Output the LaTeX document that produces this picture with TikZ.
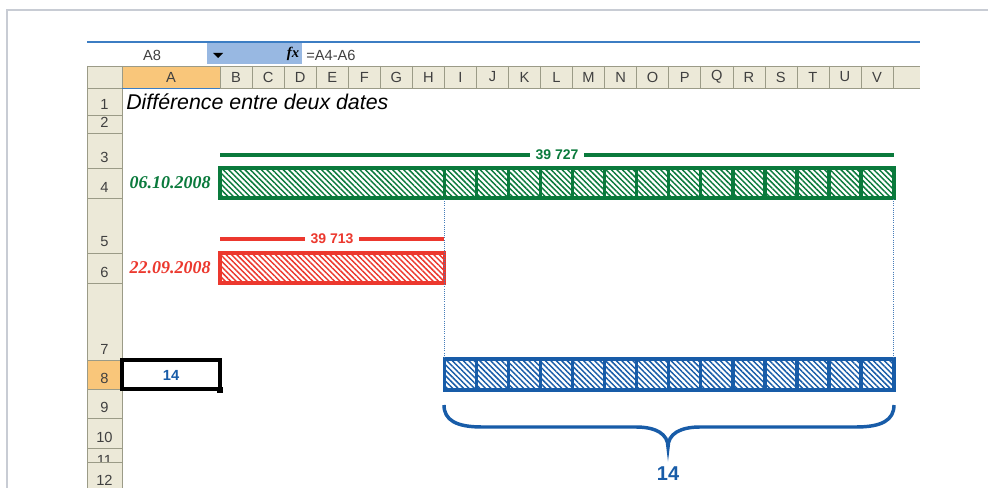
\documentclass[tikz,border=0pt]{standalone}
\usepackage{fontspec}
\setmainfont{Liberation Sans}
\newfontfamily\datefont{Liberation Serif}
\usetikzlibrary{calc,patterns.meta}
\definecolor{xlgreen}{RGB}{10,122,60}
\definecolor{xlred}{RGB}{236,56,46}
\definecolor{xlblue}{RGB}{24,92,168}
\definecolor{hdrbg}{RGB}{236,233,216}
\definecolor{hdrline}{RGB}{155,155,135}
\definecolor{hdrsel}{RGB}{249,198,122}
\definecolor{fxblue}{RGB}{152,184,226}
\definecolor{barblue}{RGB}{60,125,195}
\definecolor{framegray}{RGB}{200,204,212}

\begin{document}
\begin{tikzpicture}[x=0.75pt,y=-0.75pt]
  \tikzset{hdr/.style={font=\fontsize{11}{11}\selectfont,text=black!75,inner sep=0pt},
    hatch/.style={pattern={Lines[angle=-45,distance=2.9pt,line width=1.1pt]},pattern color=#1},
    barline/.style={draw=#1,line width=2.6pt},
    dim/.style={draw=#1,line width=2.6pt},
    dimlabel/.style={text=#1,inner sep=4pt,font=\fontsize{10.5}{10.5}\selectfont\bfseries},
    datelabel/.style={anchor=east,inner sep=0pt,text=#1,font=\datefont\fontsize{13.5}{13.5}\selectfont\bfseries\itshape},
    guide/.style={draw=xlblue!80,densely dotted,line width=0.6pt}};
  \useasboundingbox (0,0) rectangle (988,488);
  \fill[white] (0,0) rectangle (988,488);
  \draw[framegray,line width=1.5pt] (7,488) -- (7,10) -- (988,10);
  % formula bar
  \fill[fxblue] (207,43) rectangle (302,64);
  \draw[barblue,line width=1.8pt] (87,42) -- (920,42);
  \node[hdr] (name) at (152,55) {A8};
  \fill[black] (213,53) -- (223,53) -- (218,58) -- cycle;
  \node[inner sep=0pt,font=\datefont\fontsize{11}{11}\selectfont\bfseries\itshape] (fx) at (293,54) {fx};
  \node[hdr,anchor=west] (formula) at (306,55) {=A4-A6};
  % headers
  \fill[hdrbg] (87,66) rectangle (920,88);
  \fill[hdrbg] (87,88) rectangle (122,488);
  \fill[hdrsel] (122,66) rectangle (220,88);
  \fill[hdrsel] (87,360) rectangle (122,389);
  \draw[hdrline] (87,66) -- (920,66);
  \draw[hdrline] (87,88) -- (920,88);
  \draw[hdrline] (87,66) -- (87,488);
  \draw[hdrline] (122,66) -- (122,488);
  \draw[barblue] (122,88) -- (220,88);
  \draw[barblue] (87,389) -- (122,389);
  \node[hdr] (colA) at (171,77) {A};
  \draw[hdrline] (220,66) -- (220,88);
  \foreach \c [count=\i] in {B,C,D,E,F,G,H,I,J,K,L,M,N,O,P,Q,R,S,T,U,V}{
    \node[hdr] (col\c) at ({220+(\i-0.5)*32.05},77) {\c};
    \draw[hdrline] ({220+\i*32.05},66) -- ({220+\i*32.05},88);
  }
  \foreach \r/\y in {1/115,2/133,3/168,4/198,5/253,6/283,7/360,8/389,9/418,10/448,11/462}{
    \draw[hdrline] (87,\y) -- (122,\y);
  }
  \foreach \r/\y in {1/115,2/133,3/168,4/198,5/253,6/283,7/360,8/389,9/418,10/448}{
    \node[hdr] (row\r) at (104.5,\y-11) {\r};
  }
  \begin{scope}
    \clip (88,449) rectangle (121,461);
    \node[hdr] (row11) at (104.5,460) {11};
  \end{scope}
  \node[hdr] (row12) at (104.5,480) {12};
  % title
  \node[anchor=west,inner sep=0pt,font=\fontsize{16}{16}\selectfont\itshape] (title) at (126,102) {Différence entre deux dates};
  % dates
  \node[datelabel=xlgreen] (date1) at (211,183) {06.10.2008};
  \node[datelabel=xlred] (date2) at (211,268) {22.09.2008};
  % bars
  \coordinate (g1) at (220,168);
  \coordinate (g2) at (894,198);
  \coordinate (r1) at (220,253);
  \coordinate (r2) at (444.35,283);
  \coordinate (b1) at (444.35,359);
  \coordinate (b2) at (894,390);
  \path[hatch=xlgreen] (g1) rectangle (g2);
  \draw[barline=xlgreen] (g1) rectangle (g2);
  \foreach \i in {7,...,20}
    \draw[barline=xlgreen] ({220+\i*32.05},168) -- ({220+\i*32.05},198);
  \path[hatch=xlred] (r1) rectangle (r2);
  \draw[barline=xlred] (r1) rectangle (r2);
  \path[hatch=xlblue] (b1) rectangle (b2);
  \draw[barline=xlblue] (b1) rectangle (b2);
  \foreach \i in {8,...,20}
    \draw[barline=xlblue] ({220+\i*32.05},359) -- ({220+\i*32.05},390);
  % dimension lines
  \coordinate (gs) at (220,155);
  \coordinate (ge) at (894,155);
  \node[dimlabel=xlgreen] (gw) at (557,155) {39 727};
  \draw[dim=xlgreen] (gs) -- (gw.west);
  \draw[dim=xlgreen] (gw.east) -- (ge);
  \coordinate (rs) at (220,239);
  \coordinate (re) at (444.35,239);
  \node[dimlabel=xlred] (rw) at (332,239) {39 713};
  \draw[dim=xlred] (rs) -- (rw.west);
  \draw[dim=xlred] (rw.east) -- (re);
  \coordinate (d1) at (444.35,199);
  \coordinate (d2) at (893,199);
  \draw[guide] (d1) -- (b1);
  \draw[guide] (d2) -- (d2 |- b1);
  % result
  \draw[black,line width=2.6pt] (122,360) rectangle (220,389);
  \fill[black] (216.5,386.5) rectangle (222.5,392.5);
  \node[text=xlblue,inner sep=0pt,font=\fontsize{11}{11}\selectfont\bfseries] (res) at (171,375) {14};
  \coordinate (kl) at (444,405);
  \coordinate (km) at (668,447);
  \coordinate (kr) at (894,405);
  \draw[xlblue,line width=2.6pt] (kl) .. controls (444,420) and (456,427) .. (482,427) -- (636,427)
    .. controls (656,427) and (668,434) .. (km) .. controls (668,434) and (680,427) .. (700,427)
    -- (856,427) .. controls (882,427) and (894,420) .. (kr);
  \node[text=xlblue,inner sep=0pt,font=\fontsize{15}{15}\selectfont\bfseries] (days) at (668,474) {14};
\end{tikzpicture}
\end{document}
